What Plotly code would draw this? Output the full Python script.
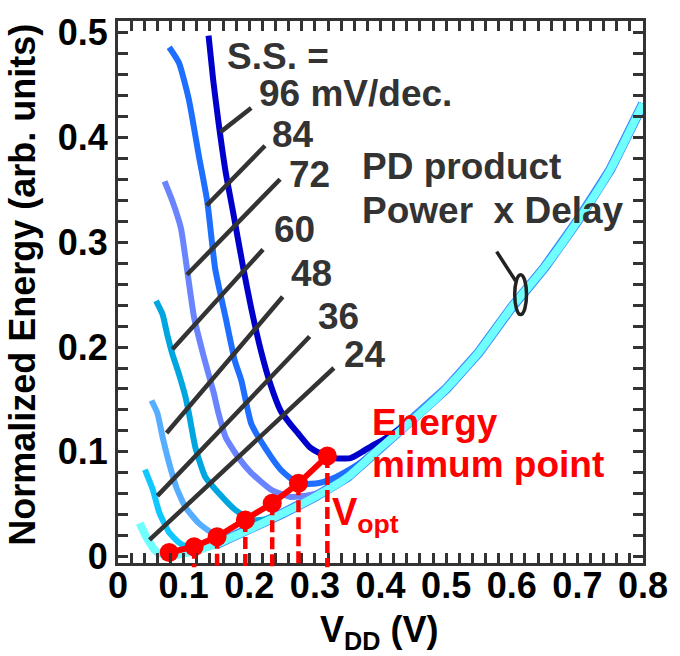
import plotly.graph_objects as go

# ---------------- data ----------------
ss_labels = ["96", "84", "72", "60", "48", "36", "24"]
colors = ["#0000CC", "#1E6EFF", "#6A84FF", "#00A6E0", "#55AEFF", "#10C8FF", "#70FFFF"]

# shared PD-product envelope (right branch, common to all curves)
env_v = [0.10, 0.12, 0.15, 0.20, 0.25, 0.30, 0.35, 0.40, 0.45, 0.50, 0.55, 0.60, 0.65, 0.70, 0.75, 0.80]
env_E = [0.003, 0.006, 0.012, 0.026, 0.041, 0.057, 0.076, 0.104, 0.131, 0.160, 0.195, 0.238, 0.276, 0.320, 0.369, 0.432]

# individual left branches for each S.S. value
v96 = [0.138, 0.145, 0.153, 0.164, 0.175, 0.191, 0.203, 0.218, 0.232, 0.248, 0.262, 0.274, 0.293, 0.310, 0.329, 0.354, 0.372, 0.390, 0.400]
E96 = [0.497, 0.455, 0.415, 0.367, 0.330, 0.275, 0.237, 0.196, 0.165, 0.139, 0.127, 0.118, 0.104, 0.098, 0.094, 0.094, 0.100, 0.107, 0.110]
v84 = [0.078, 0.093, 0.108, 0.123, 0.136, 0.148, 0.164, 0.178, 0.188, 0.203, 0.224, 0.248, 0.274, 0.304, 0.325, 0.344, 0.370]
E84 = [0.486, 0.471, 0.436, 0.383, 0.339, 0.275, 0.228, 0.187, 0.168, 0.127, 0.104, 0.083, 0.070, 0.070, 0.074, 0.080, 0.090]
v72 = [0.071, 0.083, 0.096, 0.105, 0.116, 0.131, 0.146, 0.153, 0.164, 0.183, 0.203, 0.233, 0.263, 0.293, 0.320]
E72 = [0.358, 0.339, 0.313, 0.275, 0.228, 0.190, 0.156, 0.137, 0.114, 0.095, 0.080, 0.064, 0.057, 0.059, 0.064]
v60 = [0.058, 0.068, 0.075, 0.083, 0.093, 0.103, 0.108, 0.118, 0.133, 0.153, 0.178, 0.203, 0.230, 0.260]
E60 = [0.244, 0.231, 0.212, 0.193, 0.174, 0.152, 0.137, 0.104, 0.076, 0.061, 0.045, 0.035, 0.036, 0.044]
v48 = [0.051, 0.060, 0.068, 0.078, 0.089, 0.103, 0.123, 0.148, 0.175, 0.200]
E48 = [0.149, 0.137, 0.114, 0.089, 0.066, 0.047, 0.032, 0.021, 0.021, 0.026]
v36 = [0.041, 0.053, 0.063, 0.078, 0.092, 0.103, 0.118, 0.135, 0.150]
E36 = [0.083, 0.064, 0.042, 0.023, 0.014, 0.010, 0.008, 0.010, 0.014]
v24 = [0.033, 0.043, 0.058, 0.070, 0.078]
E24 = [0.032, 0.019, 0.005, 0.002, 0.001]

branches_v = [v96, v84, v72, v60, v48, v36, v24]
branches_E = [E96, E84, E72, E60, E48, E36, E24]

# energy minimum points (V_opt)
vopt = [0.078, 0.116, 0.151, 0.194, 0.235, 0.275, 0.319]
Emin = [0.004, 0.0095, 0.019, 0.035, 0.051, 0.070, 0.096]

# leader lines for S.S. labels: (v0, E0, v1, E1)
leaders = [
    (0.156, 0.405, 0.203, 0.428),
    (0.135, 0.335, 0.224, 0.392),
    (0.105, 0.269, 0.247, 0.360),
    (0.083, 0.198, 0.221, 0.293),
    (0.074, 0.118, 0.251, 0.248),
    (0.060, 0.058, 0.292, 0.210),
    (0.048, 0.016, 0.329, 0.180),
]
label_pos = [(0.2135, 0.442), (0.233, 0.403), (0.259, 0.365), (0.236, 0.312),
             (0.263, 0.270), (0.304, 0.229), (0.344, 0.193)]

XR = [0.0, 0.8]
YR = [-0.006, 0.511]

FONT = "Liberation Sans, Arial, sans-serif"
DARK = "#333333"
TS = 37

fig = go.Figure()

# envelope edge (thin blue rim under the cyan band)
fig.add_trace(go.Scatter(x=env_v[2:], y=env_E[2:], mode="lines",
                         line=dict(color="#3A8CFF", width=10), showlegend=False, hoverinfo="skip"))

for i, (bv, bE) in enumerate(zip(branches_v, branches_E)):
    last = bv[-1]
    xs = list(bv) + [v for v in env_v if v > last + 1e-9]
    ys = list(bE) + [e for v, e in zip(env_v, env_E) if v > last + 1e-9]
    w = 8 if i == 6 else 6
    fig.add_trace(go.Scatter(x=xs, y=ys, mode="lines",
                             line=dict(color=colors[i], width=w, shape="spline", smoothing=0.5),
                             showlegend=False, hoverinfo="skip"))

# red energy-minimum trace
fig.add_trace(go.Scatter(x=vopt, y=Emin, mode="lines+markers",
                         line=dict(color="#FF0000", width=6),
                         marker=dict(color="#FF0000", size=19),
                         showlegend=False, hoverinfo="skip", cliponaxis=False))

shapes = []
# dashed drop lines to the axis
for v, e in zip(vopt[1:], Emin[1:]):
    ypaper = (e - YR[0]) / (YR[1] - YR[0])
    shapes.append(dict(type="line", xref="x", yref="paper", x0=v, x1=v, y0=ypaper, y1=-0.008,
                       line=dict(color="#FF0000", width=4.5, dash="12px,5px"), layer="above"))
# S.S. leader lines
for (a, b, c, d) in leaders:
    shapes.append(dict(type="line", xref="x", yref="y", x0=a, y0=b, x1=c, y1=d,
                       line=dict(color=DARK, width=4.5)))
# PD product leader + ellipse
shapes.append(dict(type="line", xref="x", yref="y", x0=0.577, y0=0.291, x1=0.606, y1=0.263,
                   line=dict(color="#222222", width=3.5)))
shapes.append(dict(type="circle", xref="x", yref="y", x0=0.6045, x1=0.6225, y0=0.231, y1=0.269,
                   line=dict(color="#222222", width=3.5)))

def txt(t, x, y, color=DARK, size=TS):
    return dict(text=t, x=x, y=y, xref="x", yref="y", xanchor="left", yanchor="middle",
                showarrow=False, font=dict(family=FONT, size=size, color=color, weight="bold"))

annotations = [txt("S.S. =", 0.163, 0.477)]
for k, (lab, (x, y)) in enumerate(zip(ss_labels, label_pos)):
    t = lab + " mV/dec." if k == 0 else lab
    annotations.append(txt(t, x - 0.002, y))
annotations.append(txt("PD product", 0.369, 0.372))
annotations.append(txt("Power  x Delay", 0.369, 0.330))
annotations.append(txt("Energy", 0.384, 0.128, "#FF0000"))
annotations.append(txt("mimum point", 0.384, 0.088, "#FF0000"))
annotations.append(txt("V<sub>opt</sub>", 0.323, 0.040, "#FF0000", 38))
# axis titles
annotations.append(dict(text="Normalized Energy (arb. units)", x=-0.182, y=0.514,
                        xref="paper", yref="paper", xanchor="center", yanchor="middle",
                        textangle=-90, showarrow=False,
                        font=dict(family=FONT, size=36, color="#000000", weight="bold")))
annotations.append(dict(text="V<sub>DD</sub> (V)", x=0.497, y=-0.082,
                        xref="paper", yref="paper", xanchor="center", yanchor="top",
                        showarrow=False,
                        font=dict(family=FONT, size=36, color="#000000", weight="bold")))

axis_common = dict(showgrid=False, zeroline=False, showline=True, linecolor=DARK, linewidth=3,
                   mirror="ticks", ticks="inside", ticklen=10, tickwidth=3, tickcolor=DARK,
                   tickfont=dict(family=FONT, size=36, color="#000000", weight="bold"))

fig.update_layout(
    width=680, height=656,
    margin=dict(l=118, r=29, t=18, b=93),
    paper_bgcolor="white", plot_bgcolor="white",
    xaxis=dict(range=XR, dtick=0.1, tick0=0, tickformat="~g", ticklabelstandoff=-11,
               minor=dict(dtick=0.02, ticks="inside", ticklen=10, tickwidth=3, tickcolor=DARK),
               **axis_common),
    yaxis=dict(range=YR, dtick=0.1, tick0=0, tickformat="~g",
               minor=dict(dtick=0.02, ticks="inside", ticklen=10, tickwidth=3, tickcolor=DARK),
               **axis_common),
    shapes=shapes, annotations=annotations, showlegend=False,
)

fig.write_html("out.html")
